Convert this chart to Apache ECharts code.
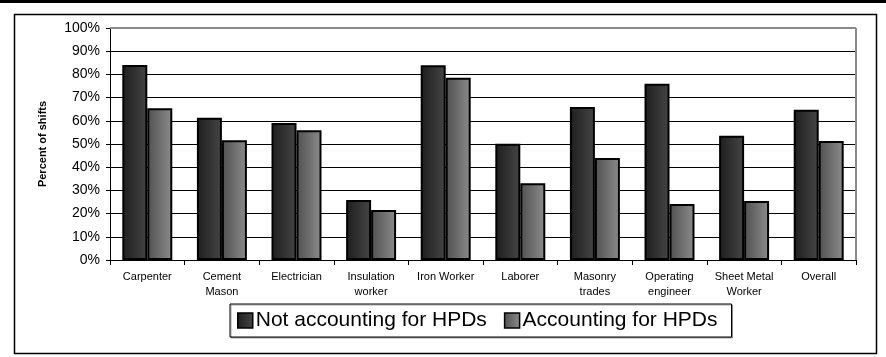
<!DOCTYPE html>
<html><head><meta charset="utf-8">
<style>html,body{margin:0;padding:0;background:#fff}#c{width:886px;height:357px}</style>
<script src="https://cdn.jsdelivr.net/npm/echarts@6/dist/echarts.min.js"></script>
</head><body><div id="c"></div>
<script>
var categories = ["Carpenter", "Cement\nMason", "Electrician", "Insulation\nworker", "Iron Worker", "Laborer", "Masonry\ntrades", "Operating\nengineer", "Sheet Metal\nWorker", "Overall"];
var notAccounting = [84.0, 61.3, 59.0, 25.9, 83.9, 50.1, 65.9, 76.0, 53.6, 64.8];
var accounting = [65.4, 51.6, 55.9, 21.6, 78.6, 33.1, 44.0, 24.1, 25.4, 51.3];
var seriesNames = ["Not accounting for HPDs", "Accounting for HPDs"];

var chart = echarts.init(document.getElementById('c'), null, {renderer: 'canvas'});
function grad(a, b) {
  return new echarts.graphic.LinearGradient(0, 0, 1, 0, [{offset: 0, color: a}, {offset: 1, color: b}]);
}
var darkFill = grad('#1e1e1e', '#454545');
var lightFill = grad('#505050', '#8c8c8c');
chart.setOption({
  animation: false,
  textStyle: {fontFamily: 'Arial, "Liberation Sans", sans-serif'},
  grid: {left: 110, right: 30, top: 28, bottom: 97, show: false},
  graphic: [
    {type: 'rect', shape: {x: 0, y: 0, width: 886, height: 3}, style: {fill: '#000'}, silent: true},
    {type: 'rect', shape: {x: 14.5, y: 14.5, width: 862, height: 339}, style: {fill: 'none', stroke: '#000', lineWidth: 1.5}, silent: true},
    {type: 'line', shape: {x1: 110, y1: 28, x2: 856, y2: 28}, style: {stroke: '#8a8a8a', lineWidth: 2}, silent: true, z: 5},
    {type: 'line', shape: {x1: 856, y1: 28, x2: 856, y2: 260}, style: {stroke: '#8a8a8a', lineWidth: 2}, silent: true, z: 5}
  ],
  legend: {
    data: seriesNames,
    left: 230, top: 304,
    padding: [6, 14, 6, 7],
    icon: 'rect',
    itemWidth: 15, itemHeight: 15, itemGap: 17,
    borderColor: '#000', borderWidth: 1,
    shadowColor: 'rgba(0,0,0,0.35)', shadowOffsetX: 1, shadowOffsetY: 1,
    backgroundColor: '#fff',
    textStyle: {fontSize: 21, color: '#000', padding: [0, 0, 0, -2]},
    itemStyle: {borderColor: '#000', borderWidth: 1.5}
  },
  xAxis: {
    type: 'category', data: categories,
    axisLine: {lineStyle: {color: '#000', width: 1}},
    axisTick: {show: true, length: 5, lineStyle: {color: '#000'}},
    axisLabel: {interval: 0, fontSize: 11, color: '#000', lineHeight: 15, margin: 9}
  },
  yAxis: {
    type: 'value', min: 0, max: 100, interval: 10,
    name: 'Percent of shifts', nameLocation: 'middle', nameGap: 62,
    nameTextStyle: {fontSize: 11, fontWeight: 'bold', color: '#000'},
    axisLine: {show: true, lineStyle: {color: '#000', width: 1}},
    axisTick: {show: true, length: 4, lineStyle: {color: '#000'}},
    axisLabel: {fontSize: 14, color: '#000', margin: 10, formatter: '{value}%'},
    splitLine: {lineStyle: {color: '#000', width: 1}}
  },
  series: [
    {name: seriesNames[0], type: 'bar', data: notAccounting, barGap: '0%', barCategoryGap: '33%',
     itemStyle: {color: darkFill, borderColor: '#000', borderWidth: 2}},
    {name: seriesNames[1], type: 'bar', data: accounting,
     itemStyle: {color: lightFill, borderColor: '#000', borderWidth: 2}}
  ]
});
</script></body></html>
